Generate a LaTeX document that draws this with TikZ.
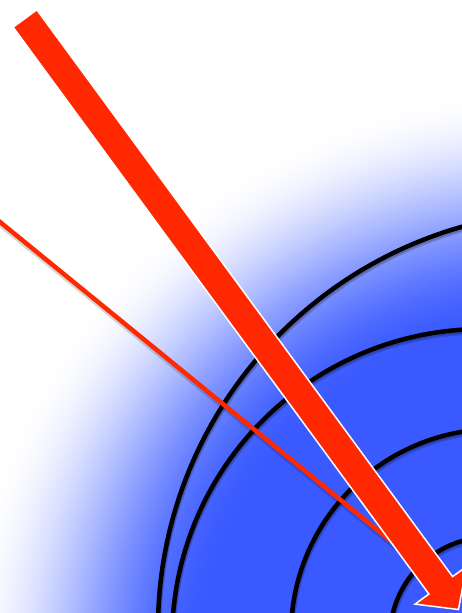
\documentclass[tikz,border=0pt]{standalone}
\usetikzlibrary{calc}
\definecolor{myblue}{RGB}{58,90,255}
\definecolor{myred}{RGB}{255,40,0}
\begin{document}
\begin{tikzpicture}[x=1pt,y=-1pt,
  wave/.style={draw=black,line width=4.5pt},
  waveshadow/.style={draw=black,line width=6pt,opacity=0.16},
  ray/.style={draw=myred,line width=4.5pt},
  rayshadow/.style={draw=black,line width=5pt,opacity=0.16},
  bigarrow/.style={fill=myred,draw=white,line width=1.5pt,line join=miter}]
\useasboundingbox (0,0) rectangle (462,613);
\clip (0,0) rectangle (462,613);
\fill[white] (0,0) rectangle (462,613);
% radial glow
\coordinate (g) at (548,672);
\foreach \r in {585,583,...,347} {
  \pgfmathsetmacro\u{min(1,max(0,(\r-345)/240))}
  \pgfmathsetmacro\p{100*(1-(3*\u*\u-2*\u*\u*\u))}
  \fill[myblue!\p!white] (g) circle (\r pt);
}
\fill[myblue] (g) circle (345pt);
% wave fronts
\coordinate (c1) at (576,629);
\coordinate (c2) at (483,640);
\coordinate (c3) at (496,634);
\coordinate (c4) at (490,637);
\foreach \c/\R in {c1/418,c2/311,c3/205,c4/100} {
  \draw[waveshadow] ($(\c)+(0.5,2.5)$) circle (\R pt);
  \draw[waveshadow,line width=5pt] ($(\c)+(0.3,1.5)$) circle (\R pt);
}
\foreach \c/\R in {c1/418,c2/311,c3/205,c4/100} {
  \draw[wave] (\c) circle (\R pt);
}
% thin ray
\coordinate (ls) at (-10,213.8);
\coordinate (le) at (430,573);
\draw[rayshadow] ($(ls)+(0,2.5)$) -- ($(le)+(0,2.5)$);
\draw[ray] (ls) -- (le);
% thick arrow
\coordinate (p1) at (36.85,9.81);
\coordinate (p2) at (452.6,576.6);
\coordinate (p3) at (466.4,566.5);
\coordinate (p4) at (458.5,609.5);
\coordinate (p5) at (415.1,604.1);
\coordinate (p6) at (428.9,594.0);
\coordinate (p7) at (13.15,27.19);
\filldraw[bigarrow] (p1) -- (p2) -- (p3) -- (p4) -- (p5) -- (p6) -- (p7) -- cycle;
\end{tikzpicture}
\end{document}
